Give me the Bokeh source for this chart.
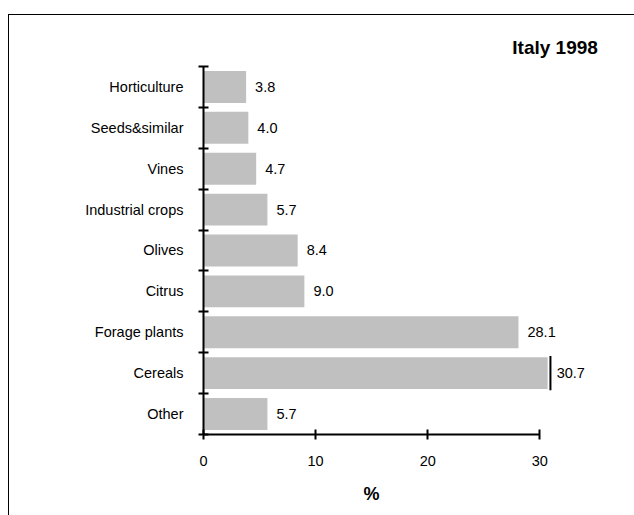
from bokeh.plotting import figure
from bokeh.models import ColumnDataSource, FixedTicker, Range1d, Label, Title
from bokeh.core.properties import value
from bokeh.embed import file_html
from bokeh.resources import INLINE

categories = ["Other", "Cereals", "Forage plants", "Citrus", "Olives",
              "Industrial crops", "Vines", "Seeds&similar", "Horticulture"]
values = [5.7, 30.7, 28.1, 9.0, 8.4, 5.7, 4.7, 4.0, 3.8]
x_ticks = [0, 10, 20, 30]
title_text = "Italy 1998"
x_axis_label = "%"

FONT = "Liberation Sans"
FS = "14.5px"
ypos = [i + 0.5 for i in range(len(categories))]
src = ColumnDataSource(dict(y=ypos, v=values, lab=[f"{v:.1f}" for v in values]))

p = figure(width=626, height=501, x_range=Range1d(0, 37.2), y_range=Range1d(0, 9.88),
           output_backend="svg", toolbar_location=None,
           min_border_left=194, min_border_right=15, min_border_top=15, min_border_bottom=82)
p.styles = {"margin-left": "8px", "margin-top": "14px",
            "border-left": "1px solid black", "border-top": "1px solid black"}
p.outline_line_color = None
p.xgrid.visible = False
p.ygrid.visible = False

p.hbar(y="y", left=0, right="v", height=0.78, source=src,
       fill_color="#c0c0c0", line_color=None)
p.text(x="v", y="y", text="lab", source=src, x_offset=9, text_baseline="middle",
       text_font=value(FONT), text_font_size=FS, text_color="black")

# break marker on the Cereals bar
ci = categories.index("Cereals")
p.segment(x0=[values[ci] + 0.25], x1=[values[ci] + 0.25], y0=[ypos[ci] - 0.42], y1=[ypos[ci] + 0.42],
          line_color="black", line_width=2)

ya = p.yaxis[0]
ya.ticker = FixedTicker(ticks=ypos, minor_ticks=list(range(len(categories) + 1)))
ya.major_label_overrides = {y: c for y, c in zip(ypos, categories)}
ya.bounds = (0, len(categories))
ya.major_tick_in = 0
ya.major_tick_out = 0
ya.minor_tick_in = 5
ya.minor_tick_out = 5
ya.minor_tick_line_width = 2
ya.minor_tick_line_color = "black"
ya.axis_line_width = 2
ya.axis_line_color = "black"
ya.major_label_standoff = 15
ya.major_label_text_font = FONT
ya.major_label_text_font_size = FS
ya.major_label_text_color = "black"

xa = p.xaxis[0]
xa.ticker = FixedTicker(ticks=x_ticks, minor_ticks=[])
xa.bounds = (0, 30)
xa.major_tick_in = 5
xa.major_tick_out = 5
xa.major_tick_line_width = 2
xa.major_tick_line_color = "black"
xa.axis_line_width = 2
xa.axis_line_color = "black"
xa.major_label_standoff = 16
xa.major_label_text_font = FONT
xa.major_label_text_font_size = FS
xa.major_label_text_color = "black"

# axis title placed under the middle of the 0-30 axis span
p.add_layout(Title(text=x_axis_label, align="left", offset=160, standoff=26,
                   text_line_height=1.0,
                   text_font=FONT, text_font_size="18px", text_font_style="bold",
                   text_color="black"), "below")

p.add_layout(Label(x=35.18, y=9.46, text=title_text, text_align="right", text_baseline="middle",
                   text_font=FONT, text_font_size="19px", text_font_style="bold",
                   text_color="black"))

open("out.html", "w").write(file_html(p, INLINE))
